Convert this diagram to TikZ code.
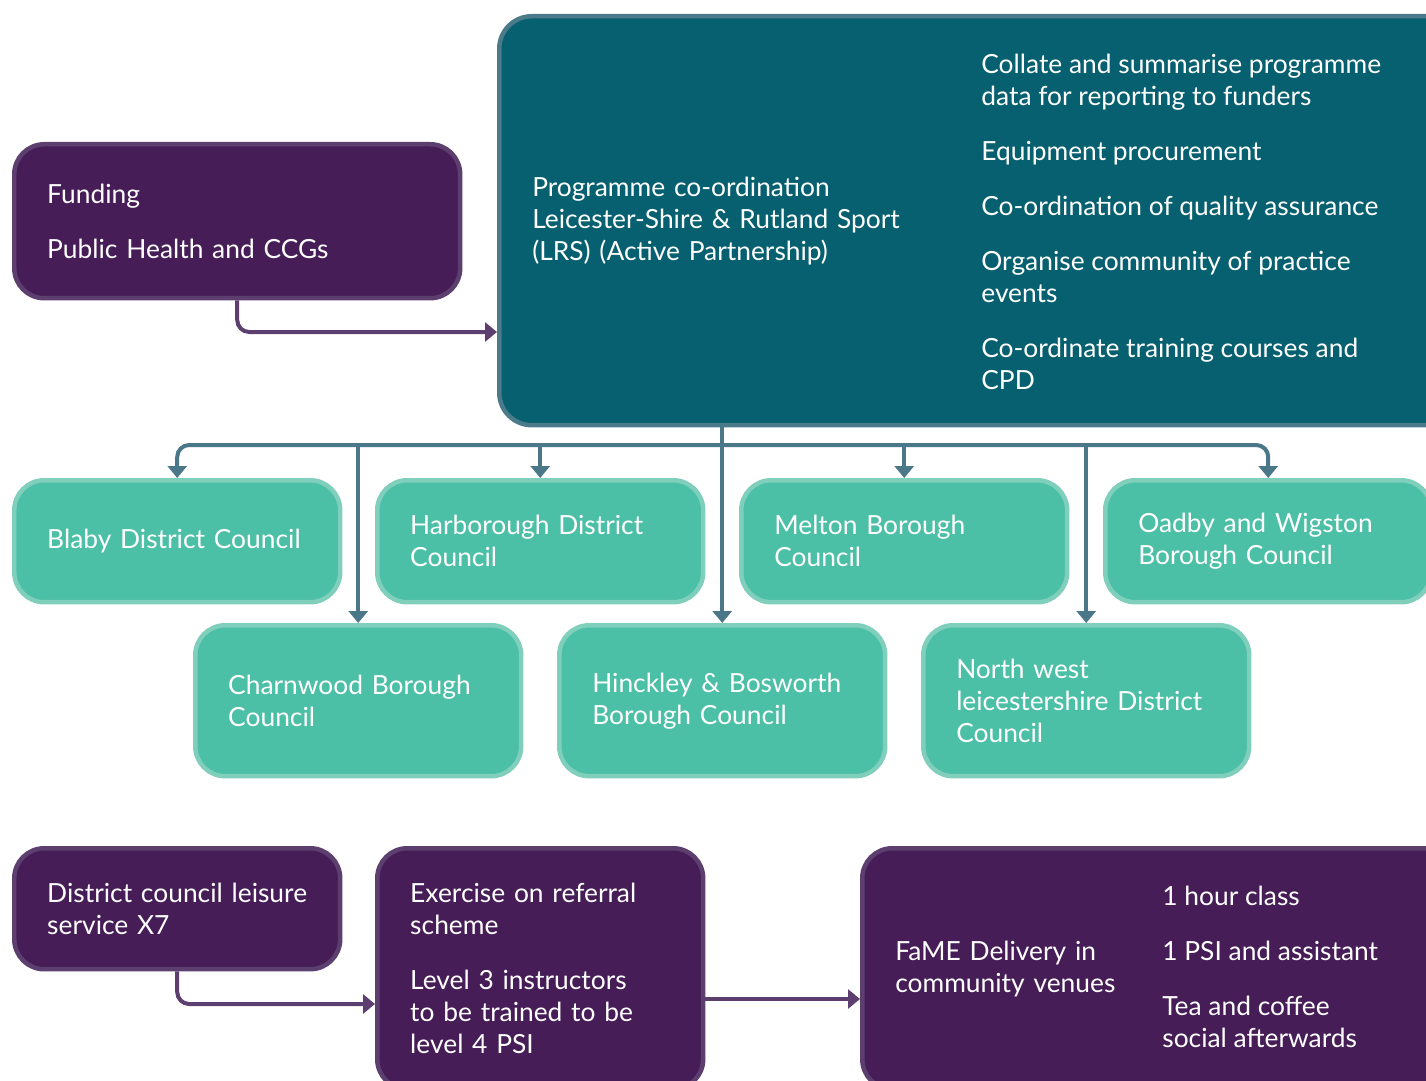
\documentclass[tikz,border=0pt]{standalone}
\usepackage{fontspec}
\setmainfont{Lato}
\usetikzlibrary{arrows.meta,positioning}
\definecolor{plum}{HTML}{461D57}
\definecolor{plumedge}{HTML}{5D3F6F}
\definecolor{petrol}{HTML}{07606F}
\definecolor{petroledge}{HTML}{4B7A8A}
\definecolor{mint}{HTML}{4CBFA7}
\definecolor{mintedge}{HTML}{80CEBC}
\definecolor{slate}{HTML}{4A7889}
\tikzset{
  box/.style={draw, line width=0.09cm, rounded corners=0.6cm, text=white, align=left,
    anchor=north west, inner xsep=0.66cm, font=\fontsize{15}{18.2}\selectfont},
  council/.style={box, fill=mint, draw=mintedge, minimum width=6.52cm, text width=5.2cm, minimum height=2.44cm},
  plumbox/.style={box, fill=plum, draw=plumedge},
  hubbox/.style={box, fill=petrol, draw=petroledge, rounded corners=0.65cm},
  listtext/.style={text=white, align=left, anchor=west, inner sep=0pt, font=\fontsize{15}{18.2}\selectfont},
  tree/.style={line width=0.08cm, draw=slate, rounded corners=0.24cm},
  feed/.style={line width=0.08cm, draw=plumedge, rounded corners=0.24cm, ->}
}

\begin{document}
\begin{tikzpicture}[x=0.02cm, y=-0.02cm, >={Triangle[width=0.38cm,length=0.24cm]}]
\useasboundingbox (0,0) rectangle (1426,1081);
\clip (0,0) rectangle (1426,1081);
\node[plumbox, minimum width=8.92cm, text width=7.6cm, minimum height=3.08cm] (fund) at (12,142) {Funding\\[0.46cm]Public Health and CCGs};
\node[hubbox, minimum width=19.2cm, text width=17.88cm, minimum height=8.18cm] (lrs) at (497,14) {Programme co-ordination\\Leicester-Shire \& Rutland Sport\\(LRS) (Active Partnership)};
\node[listtext] (lrslist) at (981,222) {Collate and summarise programme\\data for reporting to funders\\[0.46cm]Equipment procurement\\[0.46cm]Co-ordination of quality assurance\\[0.46cm]Organise community of practice\\events\\[0.46cm]Co-ordinate training courses and\\CPD};
\node[council] (blaby) at (12,478) {Blaby District Council};
\node[council] (harb) at (375,478) {Harborough District\\Council};
\node[council] (melton) at (739,478) {Melton Borough\\Council};
\node[council] (oadby) at (1103,478) {Oadby and Wigston\\Borough Council};
\node[council, minimum height=3.02cm] (charn) at (193,623) {Charnwood Borough\\Council};
\node[council, minimum height=3.02cm] (hinck) at (557,623) {Hinckley \& Bosworth\\Borough Council};
\node[council, minimum height=3.02cm] (nwl) at (921,623) {North west\\leicestershire District\\Council};
\node[plumbox, minimum width=6.52cm, text width=5.2cm, minimum height=2.42cm] (dist) at (12,846) {District council leisure\\service X7};
\node[plumbox, minimum width=6.52cm, text width=5.2cm, minimum height=4.82cm] (exer) at (375,846) {Exercise on referral\\scheme\\[0.46cm]Level 3 instructors\\to be trained to be\\level 4 PSI};
\node[plumbox, minimum width=12cm, text width=10.68cm, minimum height=4.82cm] (fame) at (860,846) {FaME Delivery in\\community venues};
\node[listtext] (famelist) at (1162,967) {1 hour class\\[0.46cm]1 PSI and assistant\\[0.46cm]Tea and coffee\\social afterwards};
\coordinate (hub) at (hinck.north |- 0,445);
\draw[feed] (fund.south) |- (lrs.west |- 0,332);
\draw[tree] (lrs.south -| hub) -- (hub);
\draw[tree, <->] (blaby.north) |- (hub) -| (oadby.north);
\draw[tree, ->] (hub -| harb.north) -- (harb.north);
\draw[tree, ->] (hub -| melton.north) -- (melton.north);
\draw[tree, ->] (hub -| charn.north) -- (charn.north);
\draw[tree, ->] (hub) -- (hinck.north);
\draw[tree, ->] (hub -| nwl.north) -- (nwl.north);
\draw[feed] (dist.south) |- (exer.west |- 0,1004);
\draw[feed] (exer.east |- 0,999) -- (fame.west |- 0,999);
\end{tikzpicture}
\end{document}
